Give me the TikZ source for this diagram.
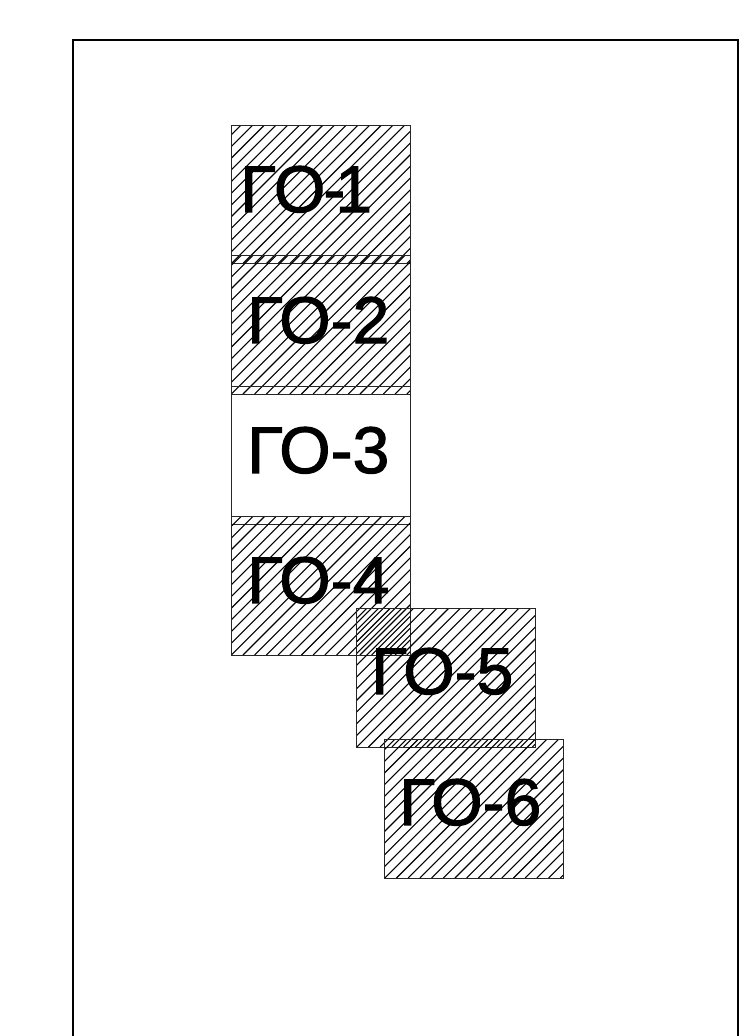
\documentclass[tikz,border=0pt]{standalone}
\usepackage{fontspec}
\newfontfamily\gofont[FakeBold=1.6]{Liberation Sans}
\tikzset{
  frameline/.style={draw=black,line width=2pt},
  plainbox/.style={draw=black!85,line width=1pt,rectangle,inner sep=0pt,anchor=north west,minimum width=179pt,minimum height=138.5pt},
  hatchbox/.style={plainbox,path picture={
    \foreach \k in {-16,...,28}{
      \draw[black,line width=1.1pt] ([xshift=\k*11.7pt]path picture bounding box.south west)
        -- ++(240pt,240pt);
    }}},
  golabel/.style={anchor=base west,inner sep=0pt,font=\gofont\fontsize{66}{66}\selectfont,text=black}
}
\begin{document}
\begin{tikzpicture}[x=1pt,y=-1pt]
\useasboundingbox (0,0) rectangle (739,1036);
\fill[white] (0,0) rectangle (739,1036);
\coordinate (fa) at (73,1036);
\coordinate (fb) at (73,40);
\coordinate (fc) at (738,40);
\coordinate (fd) at (738,1036);
\draw[frameline] (fa) -- (fb) -- (fc) -- (fd);
\node[hatchbox] (b1) at (230.8,124.5) {};
\node[hatchbox] (b2) at (230.8,255) {};
\node[plainbox] (b3) at (230.8,385.5) {};
\node[hatchbox] (b4) at (230.8,516) {};
\node[hatchbox] (b5) at (356.3,608) {};
\node[hatchbox] (b6) at (384.3,739) {};
\node[golabel] (t1) at (240,212) {Г\kern-2ptО\kern-2pt-\kern-10pt1};
\node[golabel] (t2) at (247,343) {ГО-2};
\node[golabel] (t3) at (247,473) {ГО-3};
\node[golabel] (t4) at (247,603) {ГО-4};
\node[golabel] (t5) at (371,694) {ГО-5};
\node[golabel] (t6) at (399,825) {ГО-6};
\end{tikzpicture}
\end{document}
